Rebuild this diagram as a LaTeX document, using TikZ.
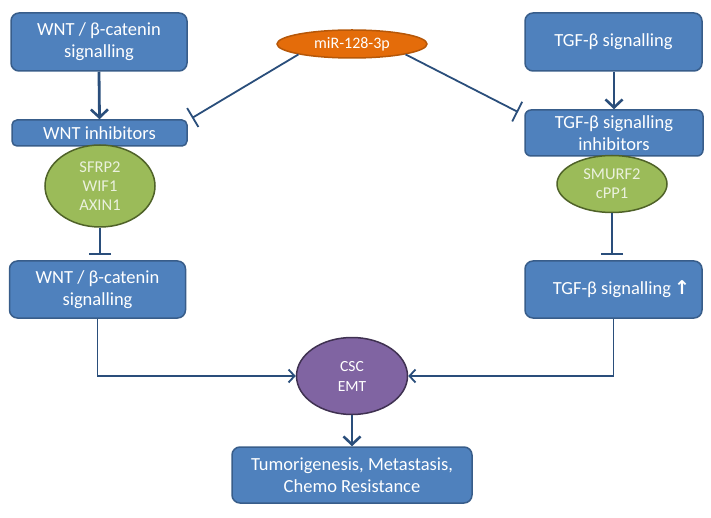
\documentclass[tikz,border=0pt]{standalone}
\usepackage{fontspec}
\setmainfont{Carlito}
\newfontfamily\dejavu{DejaVu Sans}
\usetikzlibrary{arrows.meta,shapes.geometric}
\definecolor{boxfill}{HTML}{4F81BD}
\definecolor{boxline}{HTML}{385D8A}
\definecolor{greenfill}{HTML}{9BBB59}
\definecolor{greenline}{HTML}{4F6228}
\definecolor{greentext}{HTML}{EBF1DE}
\definecolor{orangefill}{HTML}{E46C0A}
\definecolor{orangeline}{HTML}{B65708}
\definecolor{purplefill}{HTML}{8064A2}
\definecolor{purpleline}{HTML}{3F3151}
\definecolor{conn}{HTML}{2A4E7B}
\begin{document}
\begin{tikzpicture}[x=1pt,y=-1pt,
  bluebox/.style={draw=boxline, fill=boxfill, line width=1.5pt, rounded corners=8pt,
    text=white, align=center, inner sep=0pt, font=\fontsize{18.5}{22}\selectfont},
  greenell/.style={ellipse, draw=greenline, fill=greenfill, line width=1.5pt,
    text=greentext, align=center, inner sep=0pt, font=\fontsize{16.5}{19}\selectfont},
  orangeell/.style={ellipse, draw=orangeline, fill=orangefill, line width=1.5pt,
    text=white, align=center, inner sep=0pt, font=\fontsize{16}{18}\selectfont},
  purpleell/.style={ellipse, draw=purpleline, fill=purplefill, line width=1.5pt,
    text=white, align=center, inner sep=0pt, font=\fontsize{15.5}{20}\selectfont},
  thickarrow/.style={draw=conn, line width=2.8pt, -{Straight Barb[length=8pt,width=17pt,line width=2.6pt]}},
  thinarrow/.style={draw=conn, line width=1.8pt, -{Straight Barb[length=6pt,width=13pt,line width=1.8pt]}},
  inhib/.style={draw=conn, line width=1.8pt, -{Bar[width=22pt,line width=1.8pt]}}
]
\useasboundingbox (0,0) rectangle (711,518);

% top boxes
\node[bluebox, minimum width=176pt, minimum height=58pt] (wntA) at (99,42) {WNT / β-catenin\\signalling};
\node[bluebox, minimum width=177pt, minimum height=58pt] (tgfA) at (613.5,42) {TGF-β signalling};
\node[orangeell, minimum width=150pt, minimum height=28pt] (mir) at (352,44) {miR-128-3p};

% inhibitor boxes
\node[bluebox, minimum width=175pt, minimum height=26pt, rounded corners=5pt] (winh) at (99.5,133) {WNT inhibitors};
\node[bluebox, minimum width=178pt, minimum height=46pt, rounded corners=6pt] (tinh) at (614,133) {TGF-β signalling\\inhibitors};

% ellipses
\node[greenell, minimum width=110pt, minimum height=82pt] (sfrp) at (100,186) {SFRP2\\WIF1\\AXIN1};
\node[greenell, minimum width=110pt, minimum height=57pt] (smurf) at (612,184) {SMURF2\\cPP1};

% lower boxes
\node[bluebox, minimum width=176pt, minimum height=57pt] (wntB) at (97.5,289.5) {WNT / β-catenin\\signalling};
\node[bluebox, minimum width=177pt, minimum height=57pt] (tgfB) at (613.5,289.5) {\hspace*{16pt}TGF-β signalling\,{\dejavu\bfseries\fontsize{19}{19}\selectfont ↑}};

% CSC
\node[purpleell, minimum width=111pt, minimum height=77pt] (csc) at (352,376) {CSC\\EMT};

% result
\node[bluebox, minimum width=240pt, minimum height=56pt] (res) at (352,475) {Tumorigenesis, Metastasis,\\Chemo Resistance};

% coordinates
\coordinate (wbarA) at (192,118);
\coordinate (tbarA) at (518,112);
\coordinate (wbarB) at (100,255);
\coordinate (tbarB) at (612,255);

% connectors
\draw[thickarrow] (wntA.south) -- (winh.north);
\draw[thickarrow] (tgfA.south -| tinh.north) -- (tinh.north);
\draw[inhib] (mir.south west) -- (wbarA);
\draw[inhib] (mir.south east) -- (tbarA);
\draw[inhib] (sfrp.south) -- (wbarB);
\draw[inhib] (smurf.south) -- (tbarB);
\draw[thinarrow] (wntB.south) |- (csc.west);
\draw[thinarrow] (tgfB.south) |- (csc.east);
\draw[thickarrow] (csc.south) -- (res.north);
\end{tikzpicture}
\end{document}
